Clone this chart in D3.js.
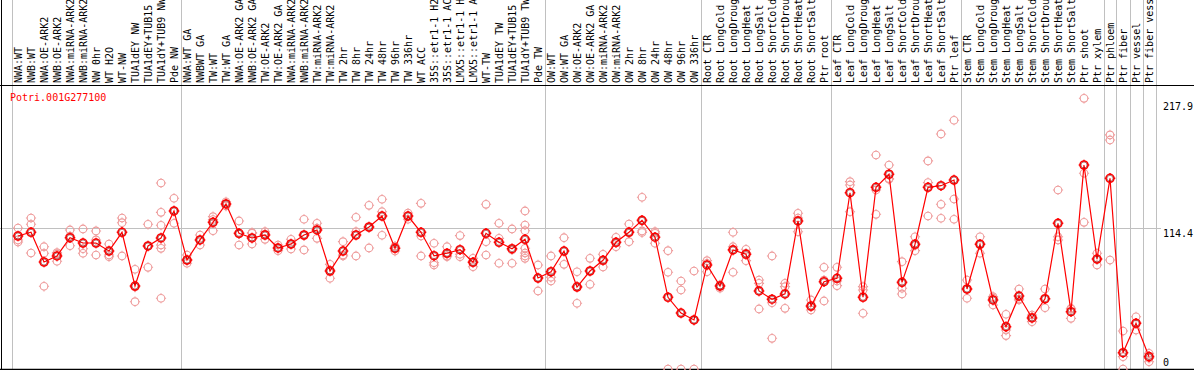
<!DOCTYPE html>
<html>
<head>
<meta charset="utf-8">
<script src="https://cdn.jsdelivr.net/npm/d3@7"></script>
<style>
  body { margin: 0; background: #fff; }
  svg { display: block; }
  text { font-family: "DejaVu Sans Mono", "Liberation Mono", monospace; font-size: 10px; }
</style>
</head>
<body>
<div id="container"></div>
<script>
const geneId = "Potri.001G277100";

const labels = [
  "NWA:WT", "NWB:WT", "NWA:OE-ARK2", "NWB:OE-ARK2", "NWA:miRNA-ARK2", "NWB:miRNA-ARK2",
  "NW 0hr", "WT H2O", "WT-NW", "TUA1dEY NW", "TUA1dEY+TUB15", "TUA1dY+TUB9 NW", "Pde NW",
  "NWA:WT GA", "NWBWT GA", "TW:WT", "TW:WT GA", "NWA:OE-ARK2 GA", "NWB:OE-ARK2 GA",
  "TW:OE-ARK2", "TW:OE-ARK2 GA", "NWA:miRNA-ARK2 GA", "NWB:miRNA-ARK2 GA", "TW:miRNA-ARK2",
  "TW:miRNA-ARK2", "TW 2hr", "TW 8hr", "TW 24hr", "TW 48hr", "TW 96hr", "TW 336hr", "WT ACC",
  "35S::etr1-1 H2O", "35S::etr1-1 ACC", "LMX5::etr1-1 H2O", "LMX5::etr1-1 ACC", "WT-TW",
  "TUA1dEY TW", "TUA1dEY+TUB15", "TUA1dY+TUB9 TW", "Pde TW",
  "OW:WT", "OW:WT GA", "OW:OE-ARK2", "OW:OE-ARK2 GA", "OW:miRNA-ARK2", "OW:miRNA-ARK2",
  "OW 2hr", "OW 8hr", "OW 24hr", "OW 48hr", "OW 96hr", "OW 336hr",
  "Root CTR", "Root LongCold", "Root LongDrought", "Root LongHeat", "Root LongSalt",
  "Root ShortCold", "Root ShortDrought", "Root ShortHeat", "Root ShortSalt", "Ptr root",
  "Leaf CTR", "Leaf LongCold", "Leaf LongDrought", "Leaf LongHeat", "Leaf LongSalt",
  "Leaf ShortCold", "Leaf ShortDrought", "Leaf ShortHeat", "Leaf ShortSalt", "Ptr leaf",
  "Stem CTR", "Stem LongCold", "Stem LongDrought", "Stem LongHeat", "Stem LongSalt",
  "Stem ShortCold", "Stem ShortDrought", "Stem ShortHeat", "Stem ShortSalt", "Ptr shoot",
  "Ptr xylem", "Ptr phloem", "Ptr fiber", "Ptr vessel", "Ptr fiber vessel"
];

// mean expression per sample
const means = [
  107.9, 110.9, 86.8, 91.7, 106.5, 102.2, 102.2, 95.7, 110.9, 67.3, 99.8, 106.3, 128.2,
  88.4, 104.7, 119.0, 133.9, 110.1, 106.3, 108.7, 98.2, 101.4, 108.7, 112.8, 79.5, 95.7,
  108.7, 115.2, 124.1, 97.9, 124.1, 110.9, 91.9, 93.9, 96.8, 86.6, 110.1, 102.8, 97.6,
  105.2, 73.8,
  78.9, 95.7, 66.5, 79.5, 88.2, 102.8, 110.9, 120.6, 106.9, 58.2, 45.4, 39.8,
  84.4, 67.3, 96.6, 93.1, 63.3, 56.6, 60.9, 120.1, 51.1, 70.8,
  73.6, 143.0, 58.2, 147.4, 158.0, 70.3, 101.2, 147.4, 148.7, 153.3,
  64.9, 101.2, 56.0, 34.3, 59.2, 41.4, 57.0, 118.2, 46.5, 165.5,
  89.2, 154.7, 13.2, 37.1, 10.0
];

// individual replicates per sample
const replicates = [
  [114.4, 104.7, 103.0], [122.5, 117.4, 94.1], [99.2, 93.9, 67.1], [94.4, 93.3, 87.4],
  [112.8, 107.9, 100.0], [113.6, 97.6, 93.9], [112.0, 104.7, 92.5], [101.4, 92.5, 91.1],
  [122.5, 118.7, 91.7], [80.9, 66.5, 54.6], [117.4, 99.8, 82.5],
  [150.9, 127.1, 116.6, 100.6, 97.9, 57.4], [138.5, 128.2, 118.2],
  [92.5, 88.4, 85.8], [108.7, 104.7, 100.6], [123.6, 121.3, 112.2], [135.7, 133.9, 132.2],
  [120.1, 109.5, 100.6], [110.6, 110.1, 101.4], [111.4, 109.5, 105.2], [100.6, 98.2, 96.0],
  [105.2, 101.4, 97.4], [121.5, 108.2, 96.6], [118.2, 114.4, 106.0], [84.9, 80.3, 73.6],
  [103.3, 92.5, 91.7], [123.1, 111.4, 91.7], [132.8, 114.6, 98.2], [137.7, 127.6, 108.5],
  [99.8, 98.2, 95.7], [126.5, 124.1, 121.5], [134.4, 107.9, 91.7], [102.0, 86.2, 84.4],
  [99.2, 91.7, 91.1], [108.2, 93.1, 91.1], [89.8, 86.8, 83.0], [133.6, 103.3, 92.5],
  [118.2, 106.0, 85.8], [113.6, 96.6, 85.8],
  [128.2, 116.8, 112.2, 97.9, 94.1, 91.7, 89.8], [84.4, 73.8, 63.3],
  [91.7, 74.4, 71.4], [106.5, 95.7, 84.9], [78.9, 67.3, 53.3], [89.8, 79.5, 68.7],
  [93.1, 88.4, 82.8], [106.9, 102.2, 99.2], [117.6, 111.4, 103.3], [139.3, 112.0, 110.7],
  [111.4, 110.1, 102.0], [96.0, 78.5, 0], [71.4, 64.1, 0], [79.5, 39.8, 0],
  [87.9, 85.8, 78.9], [68.2, 67.3, 65.5], [110.9, 99.2, 78.5], [97.1, 94.1, 87.9],
  [72.2, 69.5, 48.7], [91.7, 53.8, 24.9], [69.5, 66.8, 49.2], [126.3, 122.5, 111.4],
  [56.0, 50.3, 47.9], [82.5, 72.2, 55.2],
  [82.5, 71.4, 67.6], [152.0, 149.3, 127.6], [66.8, 64.1, 45.2], [173.6, 145.2, 125.5],
  [165.5, 154.5, 153.9], [87.1, 65.5, 60.9], [107.3, 100.2, 96.0], [168.8, 151.2, 124.1],
  [190.7, 133.6, 122.3], [201.8, 137.9, 121.5],
  [72.2, 64.9, 57.4], [107.3, 101.4, 93.9], [58.7, 57.6, 51.9], [44.4, 31.6, 27.1],
  [64.9, 56.8, 56.0], [43.8, 42.2, 38.4], [64.9, 56.8, 49.7], [145.2, 107.3, 104.7],
  [49.2, 48.7, 41.1], [219.6, 158.8, 119.0],
  [93.9, 89.2, 84.4], [189.9, 185.8, 88.4], [30.8, 10.0, 0], [42.4, 37.3, 31.6],
  [12.7, 8.7, 5.9]
];

// group separators fall after these sample indices
const separators = [-1, 12, 40, 52, 62, 72, 83, 84, 85, 86, 87];
const yTicks = [0, 114.4, 217.9];
const gridTicks = [114.4];

const width = 1194, height = 370;
const headerY = 85, bottomY = 369;

const svg = d3.select('#container')
  .append('svg')
  .attr('width', width)
  .attr('height', height);

svg.append('rect').attr('width', width).attr('height', height).attr('fill', '#fff');

const x = d3.scaleLinear().domain([0, labels.length - 1]).range([18, 18 + 13 * (labels.length - 1)]);
const y = d3.scaleLinear().domain([0, 217.9]).range([bottomY, 100.4]);

// group separators
svg.append('g')
  .selectAll('line')
  .data(separators)
  .enter().append('line')
  .attr('x1', d => Math.round(x(d + 0.5)) + 0.5)
  .attr('x2', d => Math.round(x(d + 0.5)) + 0.5)
  .attr('y1', 0)
  .attr('y2', bottomY)
  .style('stroke', '#c0c0c0')
  .style('stroke-width', 1);

// horizontal grid
svg.append('g')
  .selectAll('line')
  .data(gridTicks)
  .enter().append('line')
  .attr('x1', 0)
  .attr('x2', 1161)
  .attr('y1', d => Math.round(y(d)) + 0.5)
  .attr('y2', d => Math.round(y(d)) + 0.5)
  .style('stroke', '#c0c0c0');

// frame
svg.append('line').attr('x1', 1.5).attr('x2', 1.5).attr('y1', 0).attr('y2', height)
  .style('stroke', '#000');
svg.append('line').attr('x1', 0).attr('x2', width).attr('y1', headerY + 0.5).attr('y2', headerY + 0.5)
  .style('stroke', '#000');
svg.append('line').attr('x1', 0).attr('x2', width).attr('y1', bottomY + 0.5).attr('y2', bottomY + 0.5)
  .style('stroke', '#000').style('stroke-width', 1.5);

// sample labels
svg.append('g')
  .selectAll('text')
  .data(labels)
  .enter().append('text')
  .attr('transform', (d, i) => `translate(${x(i) + 4} ${headerY - 2}) rotate(-90)`)
  .attr('fill', '#000')
  .text(d => d);

svg.append('text')
  .attr('x', 10)
  .attr('y', 101)
  .attr('fill', '#ff0000')
  .text(geneId);

// marker: ring with little ticks
function marker(r) {
  const p = d3.path();
  p.moveTo(r, 0);
  p.arc(0, 0, r, 0, 2 * Math.PI);
  [[0, -1], [0, 1], [1, 0], [-1, 0]].forEach(([dx, dy]) => {
    p.moveTo(dx * r, dy * r);
    p.lineTo(dx * (r + 1.3), dy * (r + 1.3));
  });
  return p.toString();
}

const repPoints = [];
replicates.forEach((vals, i) => vals.forEach(v => repPoints.push({ i, v })));

const plot = svg.append('g');

plot.append('g')
  .selectAll('path')
  .data(repPoints)
  .enter().append('path')
  .attr('transform', d => `translate(${x(d.i)} ${y(d.v)})`)
  .attr('d', marker(3.8))
  .style('fill', 'none')
  .style('stroke', '#ee9a9a')
  .style('stroke-width', 1.1);

const line = d3.line()
  .x((d, i) => x(i))
  .y(d => y(d));

plot.append('path')
  .datum(means)
  .attr('d', line)
  .style('fill', 'none')
  .style('stroke', '#ff0000')
  .style('stroke-width', 1.2);

const meanG = plot.append('g')
  .selectAll('g')
  .data(means)
  .enter().append('g')
  .attr('transform', (d, i) => `translate(${x(i)} ${y(d)})`);

meanG.append('path')
  .attr('d', marker(4))
  .style('fill', 'none')
  .style('stroke', '#ff0000')
  .style('stroke-width', 1.6);

meanG.append('circle')
  .attr('r', 3)
  .style('fill', 'none')
  .style('stroke', '#700000')
  .style('stroke-width', 0.5);

// value axis on the right
const axis = svg.append('g')
  .attr('transform', 'translate(1160 0)')
  .call(d3.axisRight(y).tickValues(yTicks).tickSize(0).tickPadding(3).tickFormat(d => d));
axis.select('.domain').remove();
axis.selectAll('text')
  .style('font-family', '"DejaVu Sans Mono", monospace')
  .style('font-size', '10px')
  .attr('fill', '#000')
  .attr('dy', d => d === 0 ? '-0.4em' : '0.9em');
</script>
</body>
</html>
